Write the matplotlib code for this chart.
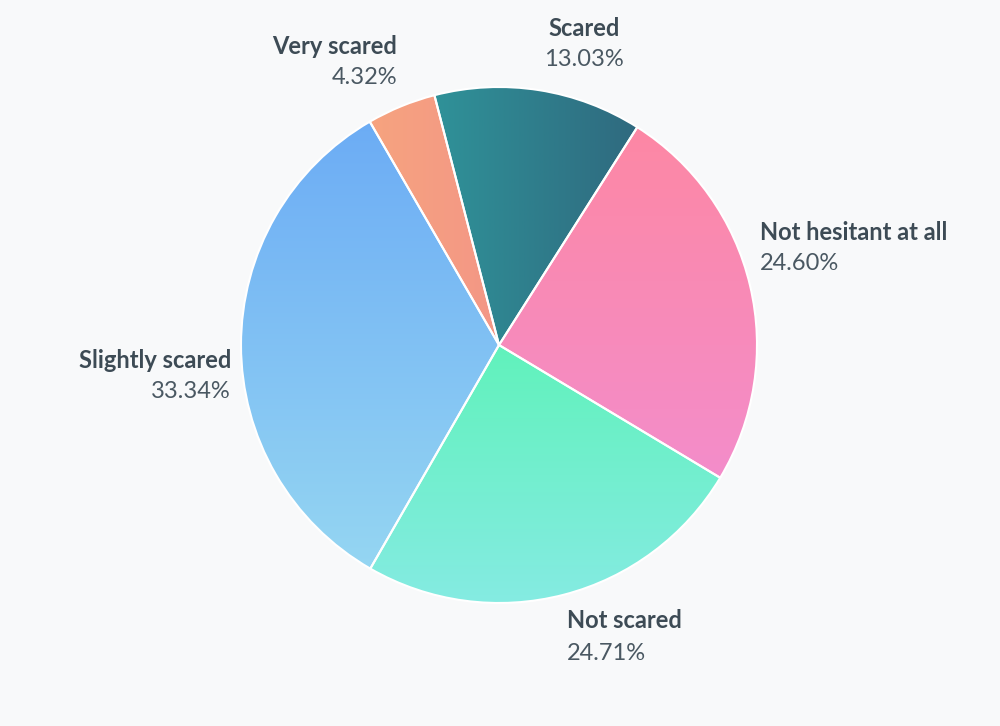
import numpy as np
import matplotlib.pyplot as plt
from matplotlib.patches import Wedge
from matplotlib.colors import LinearSegmentedColormap

labels = ['Scared', 'Not hesitant at all', 'Not scared', 'Slightly scared', 'Very scared']
shares = [13.03, 24.60, 24.71, 33.34, 4.32]
# (start colour, end colour, direction)
grads = [('#2fb8b1', '#2f5270', 'h'), ('#fe87a0', '#f08fd8', 'v'),
         ('#3cf995', '#85ebe2', 'v'), ('#69a9f5', '#98d9f2', 'v'),
         ('#f9b078', '#ee7d94', 'h')]
# label anchor positions in pixels (x, y from top), alignment
label_pos = [(584, 28, 'center'), (760, 232, 'left'), (567, 621, 'left'),
             (231, 360, 'right'), (397, 46, 'right')]

plt.rcParams['font.family'] = ['Lato', 'DejaVu Sans']
fig = plt.figure(figsize=(10, 7.26), dpi=100, facecolor='#f8f9fa')
ax = fig.add_axes([0, 0, 1, 1])
ax.set_xlim(0, 1000)
ax.set_ylim(0, 726)
ax.axis('off')

cx, cy, r = 499, 726 - 345, 258
start = -14.5  # degrees clockwise from 12 o'clock
for share, (c0, c1, d) in zip(shares, grads):
    end = start + share * 3.6
    w = Wedge((cx, cy), r, 90 - end, 90 - start, facecolor='none',
              edgecolor='white', linewidth=1.5, zorder=3)
    ax.add_patch(w)
    cmap = LinearSegmentedColormap.from_list('g', [c0, c1])
    g = np.linspace(0, 1, 256)
    img = g[None, :] if d == 'h' else g[:, None]
    im = ax.imshow(img, cmap=cmap, extent=(cx - r, cx + r, cy - r, cy + r),
                   origin='upper', aspect='auto', zorder=2)
    im.set_clip_path(w)
    start = end

for lab, share, (x, y, ha) in zip(labels, shares, label_pos):
    ax.text(x, 726 - y, lab, ha=ha, va='center', fontsize=17, fontweight='bold',
            color='#3d4b55')
    ax.text(x if ha != 'center' else x, 726 - y - 32, f'{share:.2f}%', ha=ha,
            va='center', fontsize=17, color='#4a5862')

fig.savefig('out.png', dpi=100, facecolor=fig.get_facecolor())
